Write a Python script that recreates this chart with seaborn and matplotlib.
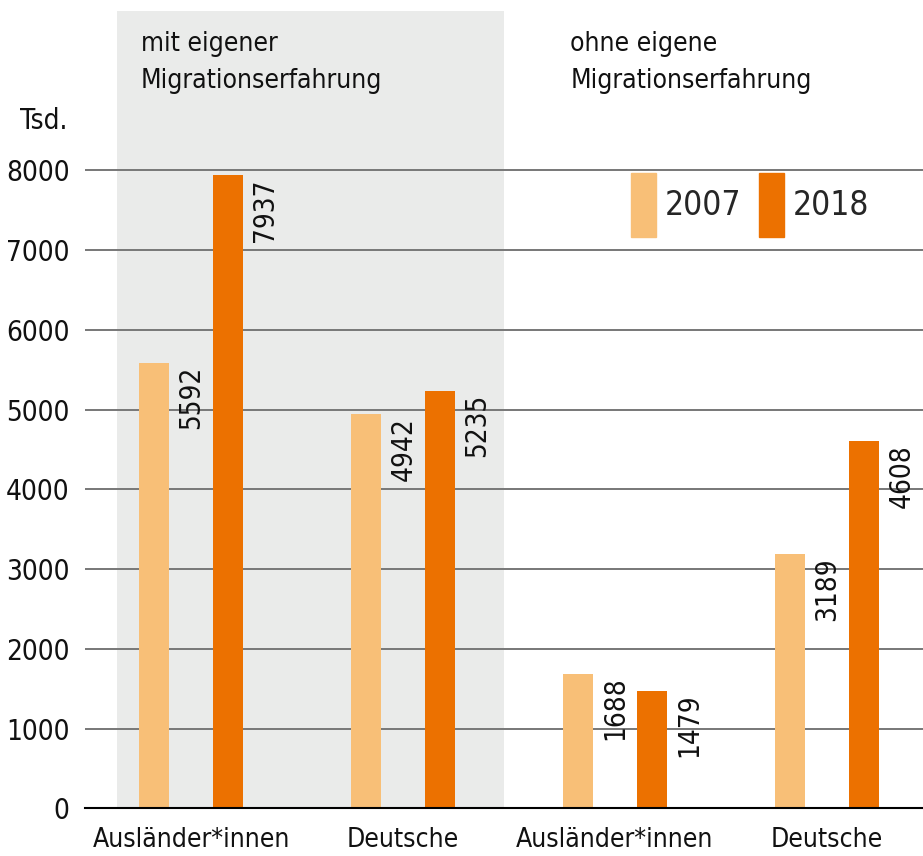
import numpy as np
import pandas as pd
import matplotlib
matplotlib.use('Agg')
import matplotlib.pyplot as plt
import matplotlib.transforms as mtransforms
from matplotlib.patches import Patch
import seaborn as sns

# Daten
gruppen = ['mit eigener\nMigrationserfahrung', 'ohne eigene\nMigrationserfahrung']
kategorien = ['Ausländer*innen', 'Deutsche', 'Ausländer*innen', 'Deutsche']
slots = ['mit_aus', 'mit_deu', 'ohne_aus', 'ohne_deu']
jahre = ['2007', '2018']
werte_2007 = [5592, 4942, 1688, 3189]
werte_2018 = [7937, 5235, 1479, 4608]
yticks = [0, 1000, 2000, 3000, 4000, 5000, 6000, 7000, 8000]

farben = {'2007': '#F8BF77', '2018': '#EC7100'}

df = pd.DataFrame({
    'slot': slots * 2,
    'jahr': ['2007'] * 4 + ['2018'] * 4,
    'wert': werte_2007 + werte_2018,
})

sns.set_theme(style='white')
plt.rcParams['font.family'] = ['DejaVu Sans']
plt.rcParams['font.stretch'] = 'condensed'

fig = plt.figure(figsize=(9.23, 8.56), dpi=100)
ax = fig.add_axes([0.0921, 0.0555, 0.9079, 0.9317])

# grauer Hintergrund für "mit eigener Migrationserfahrung"
ax.axvspan(-0.349, 1.476, color='#EAEBEA', lw=0, zorder=0.2)

sns.barplot(data=df, x='slot', y='wert', hue='jahr', order=slots, hue_order=jahre,
            palette=farben, width=0.698, gap=0.595, saturation=1, linewidth=0,
            ax=ax, legend=False, zorder=2)

ax.set_xlim(-0.5, 3.453)
ax.set_ylim(0, 10000)
ax.set_yticks(yticks)
ax.set_yticklabels([str(t) for t in yticks])
ax.set_xticks(range(len(slots)))
ax.set_xticklabels(kategorien)
ax.set_xlabel('')
ax.set_ylabel('')
ax.grid(axis='y', color='#777777', lw=1.4)
ax.grid(axis='x', visible=False)
ax.set_axisbelow(True)
ax.tick_params(axis='y', length=0, pad=11, labelsize=20, labelcolor='#111111')
ax.tick_params(axis='x', length=0, pad=13, labelsize=19, labelcolor='#111111')
for s in ['top', 'right', 'left']:
    ax.spines[s].set_visible(False)
ax.spines['bottom'].set_color('black')
ax.spines['bottom'].set_linewidth(1.5)
ax.spines['bottom'].set_zorder(3)

# Werte an den Balken
for container, vals in zip(ax.containers, [werte_2007, werte_2018]):
    for bar, v in zip(container, vals):
        ax.annotate(str(v), xy=(bar.get_x() + bar.get_width(), v),
                    xytext=(6, -2), textcoords='offset points',
                    rotation=90, ha='left', va='top', fontsize=20, color='#111111')

# Gruppentitel
trans = mtransforms.blended_transform_factory(ax.transData, ax.transAxes)
ax.text(-0.236, 0.975, gruppen[0], transform=trans, ha='left', va='top',
        fontsize=19, linespacing=1.55, color='#111111')
ax.text(1.79, 0.975, gruppen[1], transform=trans, ha='left', va='top',
        fontsize=19, linespacing=1.55, color='#111111')

fig.text(0.022, 0.859, 'Tsd.', ha='left', va='center', fontsize=20, color='#111111')

# Legende
handles = [Patch(color=farben[j], label=j) for j in jahre]
ax.legend(handles=handles, ncol=2, frameon=False, fontsize=24,
          handlelength=0.75, handleheight=2.58, handletextpad=0.25,
          columnspacing=0.55, borderpad=0, borderaxespad=0,
          loc='upper left', bbox_to_anchor=(0.6516, 0.797))

fig.savefig('out.png', dpi=100)
